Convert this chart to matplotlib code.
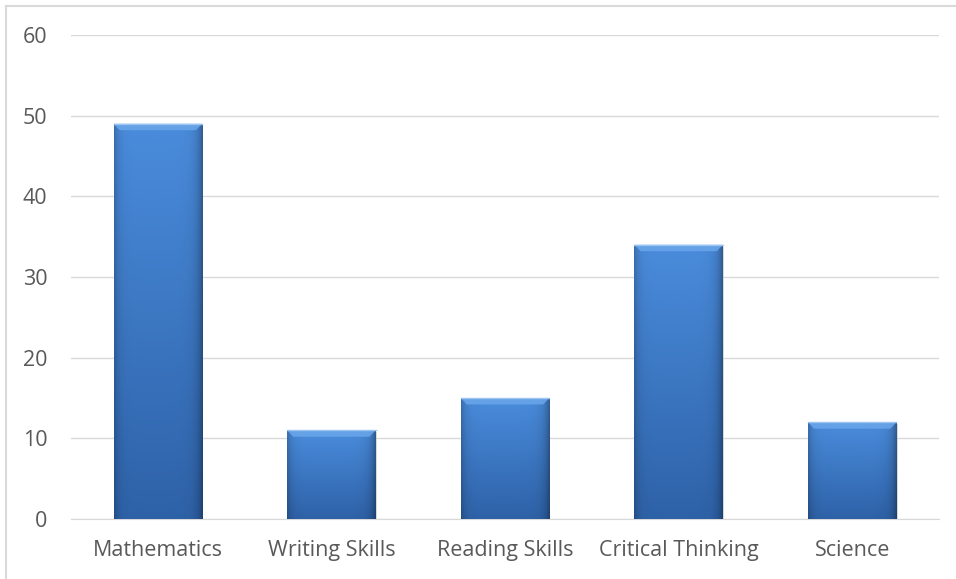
import numpy as np
import matplotlib.pyplot as plt
from matplotlib.lines import Line2D

# chart data
categories = ['Mathematics', 'Writing Skills', 'Reading Skills', 'Critical Thinking', 'Science']
values = [49, 11, 15, 34, 12]
y_ticks = [0, 10, 20, 30, 40, 50, 60]

plt.rcParams['font.family'] = ['Open Sans', 'DejaVu Sans']

W, H = 956, 579
fig = plt.figure(figsize=(W / 100, H / 100), dpi=100)
ax = fig.add_axes([71 / W, 60 / H, (939 - 71) / W, (519 - 35) / H])

x = np.arange(len(categories))
bar_w = 0.51
bars = ax.bar(x, values, width=bar_w, color='#3F7FD0', zorder=3)


def bevel_image(nx=120, ny=400):
    # base colour with a vertical gradient, darker towards the bottom
    top = np.array([0x4A, 0x8C, 0xDC]) / 255
    bot = np.array([0x2E, 0x62, 0xA8]) / 255
    t = np.linspace(0, 1, ny)[:, None, None]
    img = top * (1 - t) + bot * t
    img = np.repeat(img, nx, axis=1)
    u = np.linspace(0, 1, nx)[None, :, None]
    # darker edges left/right (right a bit darker)
    edge = np.clip(1 - 0.22 * np.exp(-u / 0.05) - 0.35 * np.exp(-(1 - u) / 0.06), 0, 1)
    img = img * edge
    return np.clip(img, 0, 1)


img = bevel_image()
for b in bars:
    x0, y0 = b.get_x(), b.get_y()
    w, h = b.get_width(), b.get_height()
    # soft shadow
    ax.bar(x0 + w / 2 + 0.006, h, width=w, bottom=-0.25, color='#BFBFBF', alpha=0.6, zorder=2)
    im = ax.imshow(img, extent=[x0, x0 + w, y0, y0 + h], aspect='auto', zorder=4,
                   interpolation='bilinear')
    im.set_clip_path(b)
    # lighter top bevel strip
    bev = 0.8
    ax.fill([x0, x0 + w, x0 + w - 0.035, x0 + 0.035], [h, h, h - bev, h - bev],
            color='#6AA6EA', alpha=0.85, zorder=5, lw=0)
    ax.plot([x0, x0 + w], [h, h], color='#9CC4F0', lw=1.0, zorder=6)

ax.set_xlim(-0.5, len(categories) - 0.5)
ax.set_ylim(0, 60)
ax.set_yticks(y_ticks)
ax.set_xticks(x)
ax.set_xticklabels(categories)
ax.yaxis.grid(True, color='#D9D9D9', lw=1.0, zorder=0)
ax.set_axisbelow(True)
for s in ['top', 'right', 'left']:
    ax.spines[s].set_visible(False)
ax.spines['bottom'].set_color('#D9D9D9')
ax.tick_params(axis='both', length=0, labelsize=15.5, labelcolor='#595959')
ax.tick_params(axis='x', pad=15)
ax.tick_params(axis='y', pad=17)

# outer chart border
fig.add_artist(Line2D([5.5 / W, 5.5 / W], [0, 1 - 5.5 / H], color='#D9D9D9', lw=1.5,
                      transform=fig.transFigure))
fig.add_artist(Line2D([5.5 / W, 955 / W], [1 - 5.5 / H, 1 - 5.5 / H], color='#D9D9D9', lw=1.5,
                      transform=fig.transFigure))

fig.savefig('out.png', dpi=100)
